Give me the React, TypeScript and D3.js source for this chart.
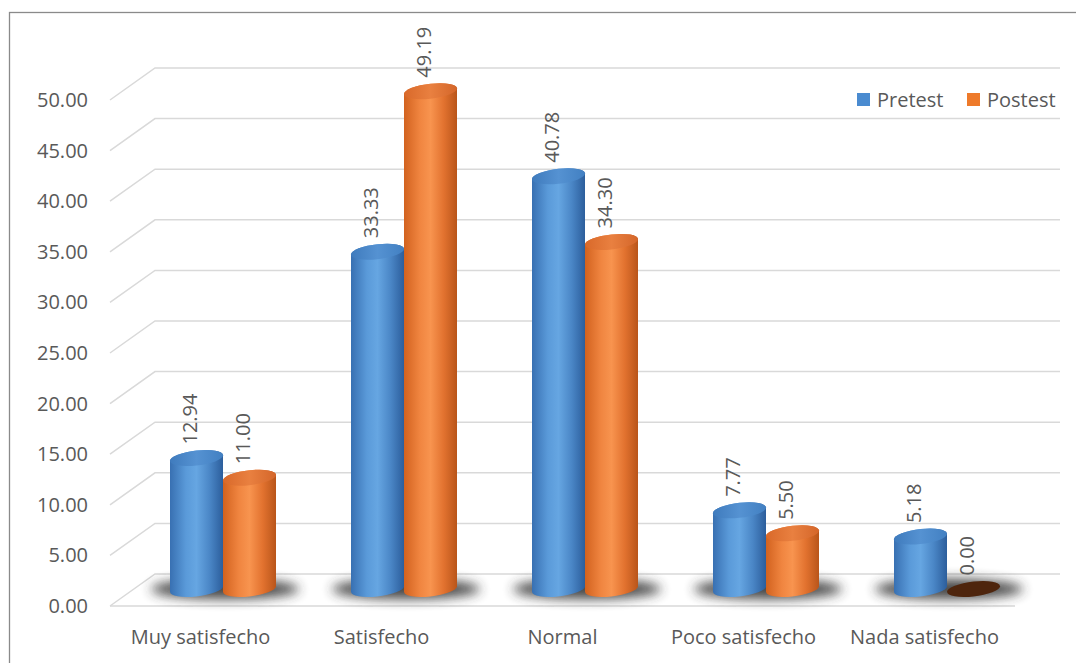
import React, { useEffect, useRef } from "react";
import * as d3 from "d3";

const categories = ["Muy satisfecho", "Satisfecho", "Normal", "Poco satisfecho", "Nada satisfecho"];
const pretest = [12.94, 33.33, 40.78, 7.77, 5.18];
const postest = [11.0, 49.19, 34.3, 5.5, 0.0];
const yTicks = [0, 5, 10, 15, 20, 25, 30, 35, 40, 45, 50];
const seriesNames = ["Pretest", "Postest"];

const W = 1076;
const H = 663;

export default function App() {
  const ref = useRef<SVGSVGElement>(null);

  useEffect(() => {
    const svg = d3.select(ref.current);
    svg.selectAll("*").remove();

    const font = "'Open Sans', 'Noto Sans', sans-serif";
    const textColor = "#595959";

    // 3d depth offset of the plot floor / back wall
    const depthX = 45, depthY = -32;
    const frontLeft = 110, frontRight = 1015;
    const y = d3.scaleLinear().domain([0, 50]).range([606, 100]);
    const yBack = (v: number) => y(v) + depthY;
    const midY = (v: number) => y(v) + depthY / 2;

    const x = d3.scaleBand<string>()
      .domain(categories)
      .range([frontLeft + depthX / 2, frontRight + depthX / 2]);
    const xFront = d3.scaleBand<string>().domain(categories).range([frontLeft, frontRight]);

    const defs = svg.append("defs");
    const grads = [
      { id: "g0", stops: ["#3870b2", "#5a9ad9", "#66a6e2", "#4a86c6", "#2c5e9c"] },
      { id: "g1", stops: ["#d2621f", "#f08540", "#f8944f", "#e2722f", "#b9551a"] },
    ];
    grads.forEach(g => {
      const lg = defs.append("linearGradient").attr("id", g.id)
        .attr("x1", "0%").attr("x2", "100%").attr("y1", "0%").attr("y2", "0%");
      [0, 0.3, 0.5, 0.75, 1].forEach((o, i) =>
        lg.append("stop").attr("offset", o).attr("stop-color", g.stops[i]));
    });
    const tops = [
      { id: "t0", stops: ["#3f7bbd", "#5592d2", "#4280c2"] },
      { id: "t1", stops: ["#d9692a", "#e98040", "#d4662a"] },
    ];
    tops.forEach(g => {
      const lg = defs.append("linearGradient").attr("id", g.id)
        .attr("x1", "0%").attr("x2", "100%").attr("y1", "0%").attr("y2", "0%");
      [0, 0.5, 1].forEach((o, i) =>
        lg.append("stop").attr("offset", o).attr("stop-color", g.stops[i]));
    });
    defs.append("filter").attr("id", "blur")
      .attr("x", "-50%").attr("y", "-150%").attr("width", "200%").attr("height", "400%")
      .append("feGaussianBlur").attr("stdDeviation", 6);

    // outer border
    svg.append("rect")
      .attr("x", 9.5).attr("y", 12.5).attr("width", 1100).attr("height", 700)
      .attr("fill", "#fff").attr("stroke", "#8a8a8a").attr("stroke-width", 1.3);

    // gridlines: side wall + back wall
    const grid = svg.append("g").attr("stroke", "#d9d9d9").attr("stroke-width", 1.5).attr("fill", "none");
    yTicks.forEach(t => {
      grid.append("path")
        .attr("d", `M${frontLeft},${y(t)}L${frontLeft + depthX},${yBack(t)}L${frontRight + depthX},${yBack(t)}`);
    });
    grid.append("line")
      .attr("x1", frontLeft).attr("x2", frontRight).attr("y1", y(0)).attr("y2", y(0));

    // y tick labels
    svg.append("g").selectAll("text").data(yTicks).join("text")
      .attr("x", 88).attr("y", d => y(d)).attr("dy", "0.35em")
      .attr("text-anchor", "end").attr("font-family", font).attr("font-size", 20)
      .attr("fill", textColor)
      .text(d => d.toFixed(2));

    // category labels
    svg.append("g").selectAll("text").data(categories).join("text")
      .attr("x", d => xFront(d)! + xFront.bandwidth() / 2).attr("y", 644)
      .attr("text-anchor", "middle").attr("font-family", font).attr("font-size", 20)
      .attr("fill", textColor)
      .text(d => d);

    const r = 26.5, ry = 7.5;
    const baseY = midY(0) - 1;
    const k = y(0) - y(1); // px per unit

    // floor shadows
    svg.append("g").selectAll("ellipse").data(categories).join("ellipse")
      .attr("cx", d => x(d)! + x.bandwidth() / 2 + 2)
      .attr("cy", baseY)
      .attr("rx", 74).attr("ry", 10)
      .attr("fill", "#333").attr("opacity", 0.9)
      .attr("filter", "url(#blur)");

    const series = [pretest, postest];
    series.forEach((vals, si) => {
      const g = svg.append("g");
      vals.forEach((v, i) => {
        const cx = x(categories[i])! + x.bandwidth() / 2 + (si === 0 ? -r : r);
        const h = v * k;
        const cyl = g.append("g").attr("transform", `translate(${cx},${baseY}) skewY(-6)`);
        if (v > 0) {
          cyl.append("path")
            .attr("d", `M${-r},${-h}L${-r},0A${r},${ry} 0 0 0 ${r},0L${r},${-h}A${r},${ry} 0 0 0 ${-r},${-h}Z`)
            .attr("fill", `url(#g${si})`);
          cyl.append("ellipse").attr("cx", 0).attr("cy", -h).attr("rx", r).attr("ry", ry)
            .attr("fill", `url(#t${si})`);
        } else {
          cyl.append("ellipse").attr("cx", 0).attr("cy", 0).attr("rx", r).attr("ry", ry)
            .attr("fill", "#4e250d");
        }
        svg.append("text")
          .attr("transform", `translate(${cx},${baseY - h - ry - 6}) rotate(-90)`)
          .attr("font-family", font).attr("font-size", 20).attr("fill", textColor)
          .text(v.toFixed(2));
      });
    });

    // legend
    const legend = svg.append("g");
    const lx = [857, 967];
    seriesNames.forEach((name, i) => {
      legend.append("rect").attr("x", lx[i]).attr("y", 93).attr("width", 13).attr("height", 13)
        .attr("fill", i === 0 ? "#4a8bd0" : "#ee7a2a");
      legend.append("text").attr("x", lx[i] + 20).attr("y", 107)
        .attr("font-family", font).attr("font-size", 20).attr("fill", textColor)
        .text(name);
    });
  }, []);

  return (
    <svg ref={ref} width={W} height={H} style={{ position: "absolute", left: 0, top: 0 }} />
  );
}
